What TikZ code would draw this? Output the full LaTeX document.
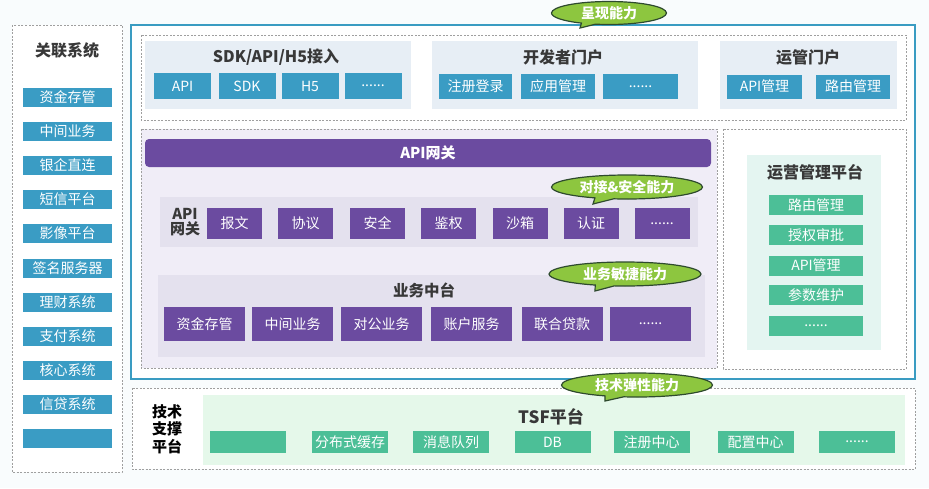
\documentclass[tikz,border=0pt]{standalone}
\usepackage{fontspec}
\setmainfont{Noto Sans CJK SC}
\usetikzlibrary{shapes.geometric,shapes.callouts}
\definecolor{teal1}{HTML}{3A9CC4}
\definecolor{purp}{HTML}{6B4BA0}
\definecolor{grn}{HTML}{4CBF97}
\definecolor{lime}{HTML}{8DC63F}
\definecolor{limeb}{HTML}{2E4A2E}
\definecolor{outerb}{HTML}{3A9CC2}
\definecolor{toppan}{HTML}{E7EEF5}
\definecolor{lav}{HTML}{F0EDF7}
\definecolor{lavpan}{HTML}{E4E1EE}
\definecolor{rpan}{HTML}{E4F5F1}
\definecolor{tsfpan}{HTML}{E5F8EA}
\definecolor{ttl}{HTML}{383838}
\newcommand\mydots{......}
\tikzset{
  x=1pt, y=-1pt,
  itembox/.style={rectangle, inner sep=0pt, text=white, font=\fontsize{14}{16}\selectfont},
  tealbox/.style={itembox, fill=teal1},
  purpbox/.style={itembox, fill=purp},
  grnbox/.style={itembox, fill=grn},
  ttlnode/.style={inner sep=0pt, text=ttl, font=\fontsize{16}{18}\selectfont\bfseries},
  dashpanel/.style={draw=gray!75, line width=0.8pt, dash pattern=on 2pt off 1.5pt},
  bubble/.style={ellipse callout, draw=limeb, line width=1.2pt, fill=lime, text=white,
     inner sep=0pt, font=\fontsize{14}{16}\selectfont\bfseries},
}
\begin{document}
\begin{tikzpicture}
\useasboundingbox (0,0) rectangle (929,488);
\fill[white!97!teal1] (0,0) rectangle (929,488);

% ---------- left column ----------
\filldraw[fill=white, dashpanel] (12,25) rectangle (122,472);
\node[ttlnode] (lt) at (67,50) {关联系统};
\foreach \n/\y/\t in {l1/97.5/资金存管, l2/131.5/中间业务, l3/165.5/银企直连, l4/199.5/短信平台,
   l5/233.5/影像平台, l6/268/签名服务器, l7/302.5/理财系统, l8/336.5/支付系统,
   l9/370.5/核心系统, l10/404/信贷系统, l11/438.5/{}}
  \node[tealbox, minimum width=89pt, minimum height=19pt] (\n) at (67.5,\y) {\t};

% ---------- outer main frame ----------
\filldraw[fill=white, draw=outerb, line width=2.5pt] (131,25) rectangle (915,379);

% top dashed panel
\draw[dashpanel] (141,35) rectangle (906,120);
\fill[toppan] (145,41) rectangle (411,109);
\fill[toppan] (432,41) rectangle (698,109);
\fill[toppan] (720,41) rectangle (897,109);
\node[ttlnode] (t1) at (276,57) {SDK/API/H5接入};
\node[ttlnode] (t2) at (563,57) {开发者门户};
\node[ttlnode] (t3) at (808,57) {运管门户};
\foreach \n/\x/\t in {s1/182.5/API, s2/247/SDK, s3/310/H5, s4/373/{\mydots}}
  \node[tealbox, minimum width=57pt, minimum height=26pt] (\n) at (\x,86) {\t};
\node[tealbox, minimum width=73pt, minimum height=25pt] (d1) at (475.5,86.5) {注册登录};
\node[tealbox, minimum width=74pt, minimum height=25pt] (d2) at (558,86.5) {应用管理};
\node[tealbox, minimum width=75pt, minimum height=25pt] (d3) at (640.5,86.5) {\mydots};
\node[tealbox, minimum width=75pt, minimum height=24pt] (o1) at (764.5,86.5) {API管理};
\node[tealbox, minimum width=74pt, minimum height=24pt] (o2) at (853,86.5) {路由管理};

% middle-left dashed panel
\fill[lav] (141,129) rectangle (717,368);
\draw[dashpanel] (141,129) rectangle (717,368);
\node[rectangle, rounded corners=4pt, fill=purp, minimum width=566pt, minimum height=28pt,
      text=white, font=\fontsize{15}{17}\selectfont\bfseries] (gw) at (428,153) {API网关};

% API row
\fill[lavpan] (160,197) rectangle (698,247);
\node[inner sep=0pt, align=center, text=ttl, font=\fontsize{15}{15.5}\selectfont\bfseries] (gwl) at (185,222) {API\\网关};
\foreach \n/\x/\t in {a1/234.5/报文, a2/305.5/协议, a3/377.5/安全, a4/448.5/鉴权,
   a5/520/沙箱, a6/591/认证, a7/662/{\mydots}}
  \node[purpbox, minimum width=55pt, minimum height=31pt] (\n) at (\x,223.5) {\t};

% business middle
\fill[lavpan] (158,275) rectangle (705,357);
\node[ttlnode, font=\fontsize{15.5}{17}\selectfont\bfseries] (bt) at (424,290) {业务中台};
\foreach \n/\x/\t in {b1/204.5/资金存管, b2/292.5/中间业务, b3/381.5/对公业务, b4/471.5/账户服务,
   b5/562/联合贷款, b6/650.5/{\mydots}}
  \node[purpbox, minimum width=81pt, minimum height=34pt] (\n) at (\x,324) {\t};

% right dashed panel
\draw[dashpanel] (723,129) rectangle (906,369);
\fill[rpan] (747,155) rectangle (881,350);
\node[ttlnode] (rt) at (815,172) {运营管理平台};
\foreach \n/\y/\t in {r1/205/路由管理, r2/235/授权审批, r3/265.5/API管理, r4/295/参数维护, r5/325.5/{\mydots}}
  \node[grnbox, minimum width=94pt, minimum height=20pt] (\n) at (816,\y) {\t};

% ---------- bottom TSF ----------
\filldraw[fill=white, dashpanel] (132,388) rectangle (915,469);
\fill[tsfpan] (203,395) rectangle (905,465);
\node[ttlnode, font=\fontsize{17}{19}\selectfont\bfseries] (tt) at (551,417) {TSF平台};
\node[inner sep=0pt, align=center, text=black, font=\fontsize{15}{17.5}\selectfont\bfseries] (tl) at (167,429) {技术\\支撑\\平台};
\foreach \n/\x/\t in {f1/248/{}, f2/350/分布式缓存, f3/451/消息队列, f4/552.5/DB,
   f5/651.5/注册中心, f6/755.5/配置中心, f7/857/{\mydots}}
  \node[grnbox, minimum width=76pt, minimum height=22pt] (\n) at (\x,442) {\t};

% ---------- bubbles ----------
\node[bubble, minimum width=115pt, minimum height=23pt, callout absolute pointer={(580,28)}] (e1) at (609,13) {呈现能力};
\node[bubble, minimum width=151pt, minimum height=24pt, callout absolute pointer={(593,204)}] (e2) at (627,187) {对接\&安全能力};
\node[bubble, minimum width=152pt, minimum height=24pt, callout absolute pointer={(595,291)}] (e3) at (625,274) {业务敏捷能力};
\node[bubble, minimum width=151pt, minimum height=24pt, callout absolute pointer={(605,401)}] (e4) at (637,385) {技术弹性能力};
\end{tikzpicture}
\end{document}
